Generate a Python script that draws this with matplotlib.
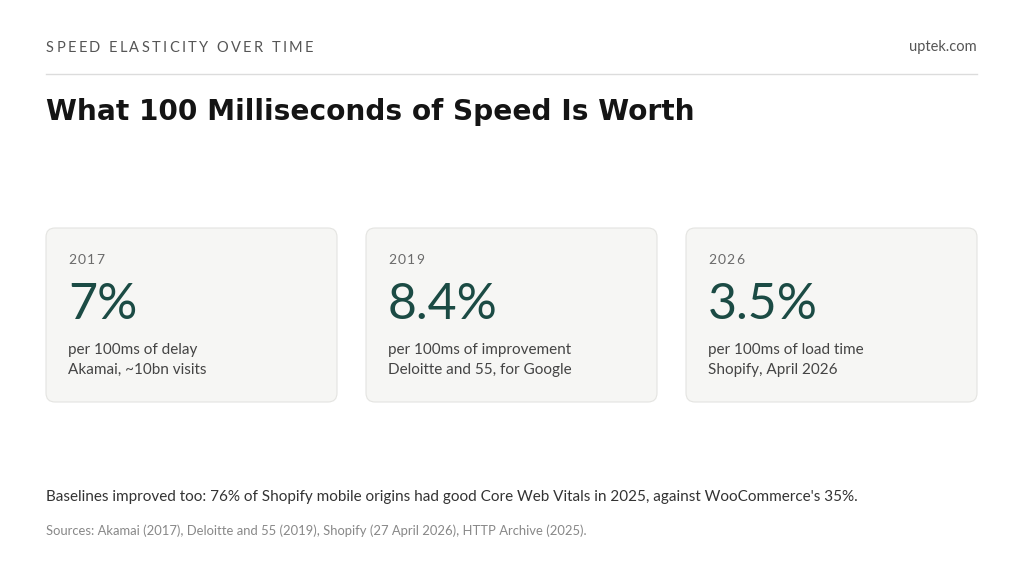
import matplotlib.pyplot as plt
from matplotlib.patches import FancyBboxPatch

# card data
years = ["2017", "2019", "2026"]
values = ["7%", "8.4%", "3.5%"]
metric = ["per 100ms of delay", "per 100ms of improvement", "per 100ms of load time"]
source = ["Akamai, ~10bn visits", "Deloitte and 55, for Google", "Shopify, April 2026"]

kicker = "SPEED ELASTICITY OVER TIME"
site = "uptek.com"
title = "What 100 Milliseconds of Speed Is Worth"
note = "Baselines improved too: 76% of Shopify mobile origins had good Core Web Vitals in 2025, against WooCommerce's 35%."
sources = "Sources: Akamai (2017), Deloitte and 55 (2019), Shopify (27 April 2026), HTTP Archive (2025)."

W, H = 1024, 576
fig = plt.figure(figsize=(W / 100, H / 100), dpi=100)
ax = fig.add_axes([0, 0, 1, 1])
ax.set_xlim(0, W)
ax.set_ylim(H, 0)
ax.axis("off")

body = ["Lato", "DejaVu Sans"]


def spaced(x, y, s, track, **kw):
    # letter-spaced text: place each glyph after the previous one
    r = fig.canvas.get_renderer()
    for ch in s:
        t = ax.text(x, y, ch, **kw)
        bb = t.get_window_extent(renderer=r)
        w = bb.width if ch != " " else kw.get("fontsize", 10) * 0.35
        x += w + track


spaced(46, 47.5, kicker, 2.35, fontsize=10.5, color="#555555", va="center", family=body)
ax.text(977, 47.5, site, fontsize=10.5, color="#555555", va="center", ha="right", family=body)
ax.plot([46, 977], [74, 74], color="#dcdcdc", lw=1)
ax.text(46, 112, title, fontsize=20.2, fontweight="bold", color="#141414", va="center",
        family="DejaVu Sans")

card_x = [46, 366, 686]
card_w, card_top, card_h = 291, 228, 174
for i in range(len(years)):
    x0 = card_x[i]
    box = FancyBboxPatch((x0, card_top), card_w, card_h,
                         boxstyle="round,pad=0,rounding_size=9",
                         fc="#f6f6f4", ec="#e4e4e1", lw=0.8)
    ax.add_patch(box)
    tx = x0 + 22
    spaced(tx, 260, years[i], 1.2, fontsize=10, color="#6a6a6a", va="center", family=body)
    ax.text(tx, 305, values[i], fontsize=36, color="#1b4b44", va="center", family=body)
    ax.text(tx, 350, metric[i], fontsize=11, color="#444444", va="center", family=body)
    ax.text(tx, 370, source[i], fontsize=11, color="#444444", va="center", family=body)

ax.text(46, 497, note, fontsize=11, color="#333333", va="center", family=body)
ax.text(46, 531, sources, fontsize=9.4, color="#888888", va="center", family=body)

fig.savefig("out.png", dpi=100, facecolor="white")
